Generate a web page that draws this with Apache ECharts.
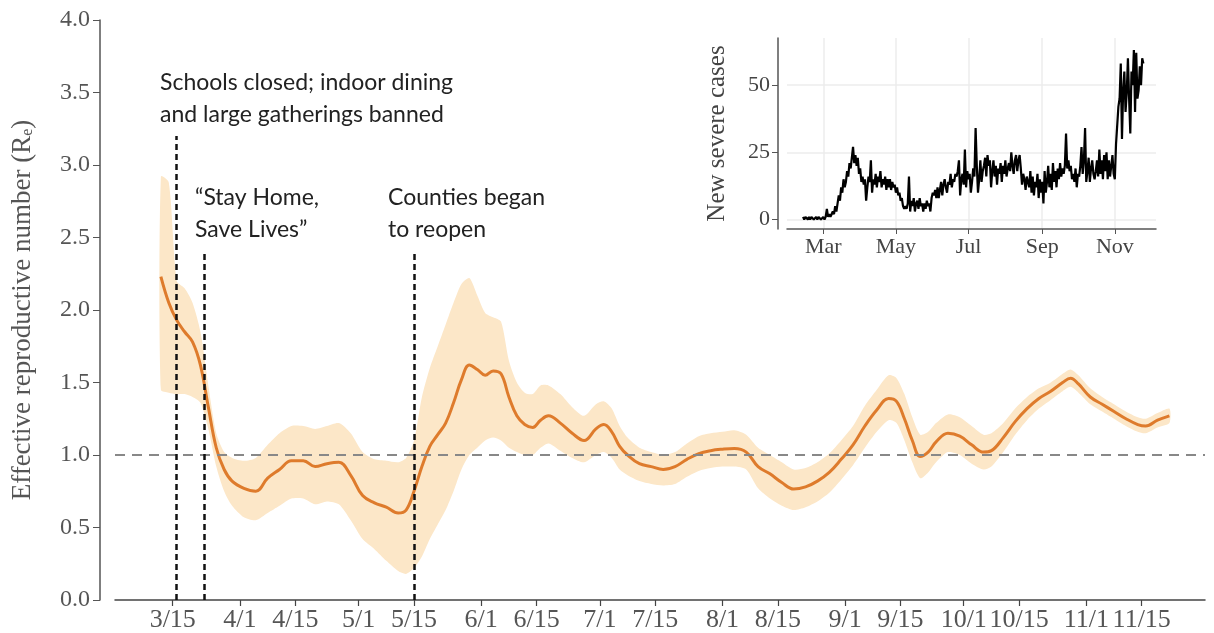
<!DOCTYPE html>
<html>
<head>
<meta charset="utf-8">
<script src="https://cdn.jsdelivr.net/npm/echarts@6/dist/echarts.min.js"></script>
<style>
html,body{margin:0;padding:0;background:#fff;}
#chart{width:1214px;height:633px;}
</style>
</head>
<body>
<div id="chart"></div>
<script>
// ---- Main chart data (days since 3/15) ----
const rDays  = [-3,-1,1,3,5,7,9,11,13,15,18,21,24,27,30,33,36,39,42,45,48,51,54,57,59,61,63,65,67,69,71,73,75,77,79,81,83,85,87,89,91,93,95,98,101,104,107,109,111,113,115,118,121,124,127,130,133,136,139,142,145,148,151,154,157,160,163,166,169,172,175,178,181,183,185,187,189,191,193,196,199,202,205,207,210,213,216,219,222,225,227,229,232,235,238,241,244,246,249,252];
const rMean  = [2.23,2.05,1.93,1.85,1.78,1.62,1.33,1.05,0.90,0.82,0.77,0.75,0.84,0.90,0.96,0.96,0.92,0.94,0.95,0.86,0.72,0.67,0.64,0.60,0.62,0.75,0.92,1.06,1.14,1.22,1.36,1.52,1.62,1.59,1.55,1.58,1.56,1.40,1.27,1.21,1.19,1.24,1.27,1.22,1.15,1.10,1.18,1.21,1.16,1.06,1.00,0.94,0.92,0.90,0.92,0.97,1.01,1.03,1.04,1.045,1.02,0.92,0.87,0.81,0.765,0.78,0.82,0.88,0.97,1.07,1.20,1.31,1.39,1.37,1.25,1.10,0.99,1.02,1.09,1.15,1.13,1.07,1.02,1.03,1.12,1.23,1.32,1.39,1.44,1.50,1.53,1.49,1.40,1.35,1.30,1.25,1.21,1.20,1.24,1.27];
const rLower = [1.45,1.43,1.42,1.42,1.40,1.36,1.18,0.92,0.75,0.65,0.57,0.55,0.60,0.65,0.70,0.70,0.66,0.68,0.66,0.55,0.42,0.35,0.27,0.20,0.18,0.22,0.30,0.42,0.52,0.62,0.75,0.90,1.00,1.05,1.10,1.12,1.10,1.05,1.02,1.00,1.00,1.05,1.08,1.03,0.98,0.95,1.00,1.02,0.98,0.90,0.86,0.82,0.80,0.79,0.80,0.85,0.89,0.91,0.92,0.92,0.90,0.77,0.70,0.65,0.62,0.64,0.68,0.74,0.83,0.93,1.05,1.16,1.24,1.22,1.10,0.95,0.84,0.88,0.95,1.02,1.00,0.94,0.90,0.92,1.02,1.14,1.24,1.32,1.38,1.44,1.47,1.43,1.35,1.30,1.25,1.20,1.16,1.15,1.19,1.22];
const rUpper = [2.92,2.88,2.20,2.15,2.05,1.85,1.48,1.15,1.02,0.98,0.96,0.98,1.07,1.15,1.20,1.20,1.18,1.20,1.22,1.15,1.02,0.97,0.96,0.95,0.98,1.10,1.40,1.60,1.75,1.90,2.05,2.18,2.22,2.10,1.98,1.95,1.92,1.65,1.50,1.43,1.42,1.48,1.48,1.42,1.33,1.27,1.35,1.37,1.32,1.20,1.12,1.05,1.02,1.00,1.02,1.08,1.13,1.15,1.16,1.17,1.14,1.05,1.00,0.95,0.90,0.91,0.95,1.01,1.10,1.20,1.34,1.45,1.55,1.53,1.42,1.26,1.14,1.16,1.22,1.28,1.26,1.20,1.14,1.15,1.22,1.32,1.40,1.46,1.50,1.56,1.59,1.55,1.46,1.40,1.35,1.30,1.26,1.25,1.29,1.32];

const xTickDays   = [0,17,31,47,61,78,92,108,122,139,153,170,184,200,214,231,245];
const xTickLabels = ['3/15','4/1','4/15','5/1','5/15','6/1','6/15','7/1','7/15','8/1','8/15','9/1','9/15','10/1','10/15','11/1','11/15'];

const eventDays = [1, 8, 61];
const eventTops = [3.2, 2.4, 2.4];
const eventTexts = ['Schools closed; indoor dining\nand large gatherings banned', '\u201CStay Home,\nSave Lives\u201D', 'Counties began\nto reopen'];

// ---- Inset data (daily new severe cases; day 0 = Mar 1) ----
const insetStartDay = -17;
const insetCases = [
 1,0,1,1,0,1,0,1,1,0,0,1,0,1,1,0,0,1,0,1,
 4,1,2,1,2,3,2,5,3,6,
 9,7,12,10,15,12,14,18,16,21,19,23,27,
 21,24,20,23,17,19,14,16,13,15,7,12,16,14,22,
 10,15,13,17,12,16,14,18,12,15,13,16,11,15,12,15,
 11,14,12,13,10,12,9,10,7,8,5,4,5,4,6,16,
 3,7,5,8,3,6,7,4,8,5,6,3,6,4,7,5,6,3,8,10,9,11,8,
 12,8,11,14,9,13,15,12,10,14,13,17,12,15,14,17,16,18,22,9,15,17,13,26,
 12,18,15,17,10,14,19,16,34,20,10,15,22,14,18,20,23,16,24,20,22,
 12,18,22,16,20,13,19,17,21,14,20,17,22,16,19,21,18,25,20,17,22,24,
 18,22,24,19,13,17,15,11,16,14,12,18,10,16,9,14,12,17,8,15,10,14,6,
 18,10,14,20,12,17,11,21,14,18,12,19,15,21,16,19,17,20,32,19,
 22,18,20,15,17,14,19,12,17,16,20,27,17,22,34,14,18,23,14,19,22,17,15,18,22,16,26,17,22,15,
 24,18,25,15,22,16,20,24,17,15,28,35,42,45,58,
 30,48,55,40,47,60,45,32,55,50,63,40,62,45,48,57,50,60,58
];
const insetTickDays   = [0,61,122,184,245];
const insetTickLabels = ['Mar','May','Jul','Sep','Nov'];
const insetYTicks = [0,25,50];

const serif = 'Liberation Serif';
const grey = '#555';

const chart = echarts.init(document.getElementById('chart'));

const mainLine = rDays.map((d,i)=>[d, rMean[i]]);
const insetLine = insetCases.map((v,i)=>[insetStartDay+i, v]);

const eventLines = eventDays.map((d,i)=>[{coord:[d,0]},{coord:[d,eventTops[i]]}]);

chart.setOption({
  animation:false,
  grid:[
    {left:115, right:9, top:20, bottom:31},
    {left:787, right:58, top:38, bottom:404}
  ],
  xAxis:[
    {type:'value', gridIndex:0, min:-14.6, max:261,
     axisLine:{onZero:false, lineStyle:{color:'#444', width:1.5}},
     axisTick:{show:true, length:6, customValues:xTickDays, lineStyle:{color:'#444',width:1.2}},
     axisLabel:{customValues:xTickDays, margin:7, fontFamily:serif, fontSize:26, color:grey,
       formatter:function(v){const k=xTickDays.indexOf(v); return k>=0?xTickLabels[k]:'';}},
     splitLine:{show:false}},
    {type:'value', gridIndex:1, min:-30.5, max:279.6,
     axisLine:{onZero:false, lineStyle:{color:'#555', width:1.5}},
     axisTick:{show:true, length:5, customValues:insetTickDays, lineStyle:{color:'#555'}},
     axisLabel:{customValues:insetTickDays, margin:7, fontFamily:serif, fontSize:22, color:'#444',
       formatter:function(v){const k=insetTickDays.indexOf(v); return k>=0?insetTickLabels[k]:'';}},
     splitLine:{show:true, lineStyle:{color:'#ececec', width:1.5}}}
  ],
  yAxis:[
    {type:'value', gridIndex:0, min:0, max:4, interval:0.5, offset:15,
     axisLine:{show:true, onZero:false, lineStyle:{color:'#555', width:1.5}},
     axisTick:{show:true, length:7, lineStyle:{color:'#555'}},
     axisLabel:{margin:10, fontFamily:serif, fontSize:24, color:grey, formatter:function(v){return v.toFixed(1);}},
     splitLine:{show:false},
     name:'Effective reproductive number (R{sub|e})', nameLocation:'middle', nameRotate:90, nameGap:64,
     nameTextStyle:{fontFamily:serif, fontSize:27, color:grey,
       rich:{sub:{fontFamily:serif, fontSize:16, color:grey, verticalAlign:'bottom', padding:[10,0,0,0]}}}},
    {type:'value', gridIndex:1, min:-3.5, max:67.5, offset:9,
     axisLine:{show:true, onZero:false, lineStyle:{color:'#555', width:1.5}},
     axisTick:{show:true, length:6, customValues:insetYTicks, lineStyle:{color:'#555'}},
     axisLabel:{customValues:insetYTicks, margin:8, fontFamily:serif, fontSize:22, color:'#444'},
     splitLine:{show:true, lineStyle:{color:'#ececec', width:1.5}},
     name:'New severe cases', nameLocation:'middle', nameRotate:90, nameGap:48,
     nameTextStyle:{fontFamily:serif, fontSize:25, color:'#444'}}
  ],
  series:[
    {type:'custom', xAxisIndex:0, yAxisIndex:0, data:[[0,0]], silent:true, z:1,
     renderItem:function(params, api){
       const pts=[];
       for(let i=0;i<rDays.length;i++) pts.push(api.coord([rDays[i], rUpper[i]]));
       for(let i=rDays.length-1;i>=0;i--) pts.push(api.coord([rDays[i], rLower[i]]));
       return {type:'polygon', shape:{points:pts, smooth:0.25}, style:{fill:'#FCE7C8'}};
     }},
    {type:'line', xAxisIndex:0, yAxisIndex:0, data:mainLine, smooth:0.4, showSymbol:false, z:3,
     lineStyle:{color:'#DE7B2C', width:3},
     markLine:{silent:true, symbol:'none', label:{show:false},
       data:[{yAxis:1, lineStyle:{color:'#888', width:2, type:[10,7]}}]}},
    {type:'line', xAxisIndex:0, yAxisIndex:0, data:[], z:5,
     markLine:{silent:true, symbol:'none', label:{show:false}, animation:false,
       lineStyle:{color:'#111', width:2.5, type:[6,4]},
       data:eventLines}},
    {type:'line', xAxisIndex:1, yAxisIndex:1, data:insetLine, showSymbol:false, z:3,
     lineStyle:{color:'#000', width:2.2}}
  ],
  graphic:[
    {type:'text', left:160, top:67, style:{text:eventTexts[0], font:'23px Lato', fill:'#222', lineHeight:32}},
    {type:'text', left:195, top:182, style:{text:eventTexts[1], font:'23px Lato', fill:'#222', lineHeight:32}},
    {type:'text', left:388, top:182, style:{text:eventTexts[2], font:'23px Lato', fill:'#222', lineHeight:32}}
  ]
});
</script>
</body>
</html>
